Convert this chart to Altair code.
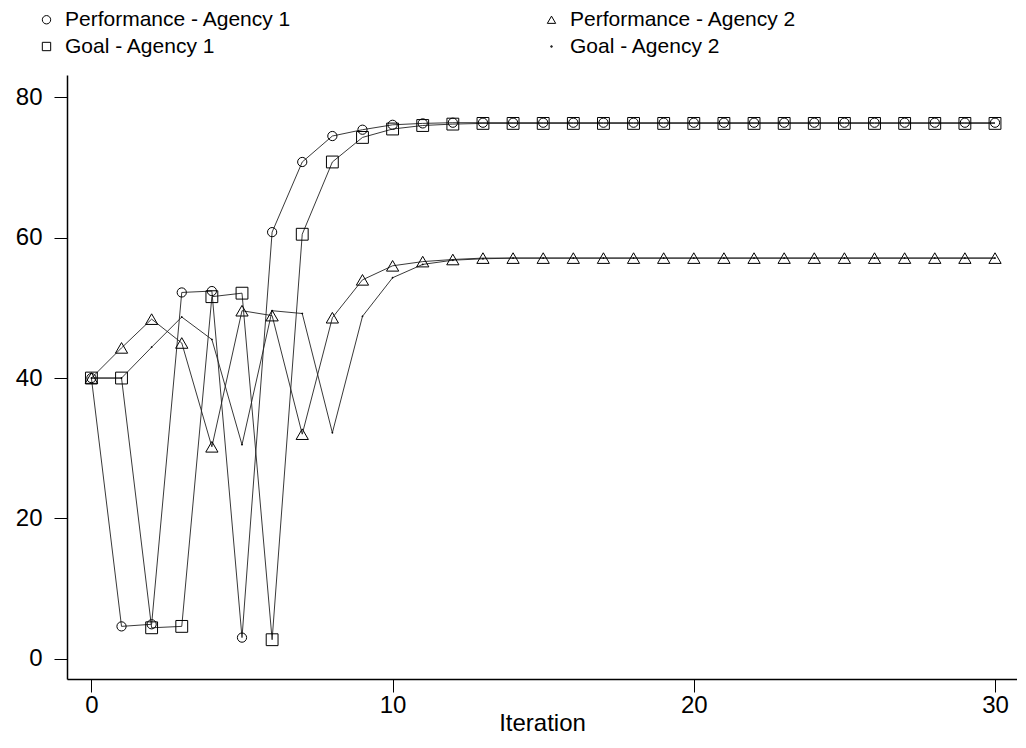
import altair as alt
import pandas as pd

iterations = list(range(31))

perf_agency1 = [40.0, 4.6, 4.9, 52.2, 52.4, 3.0, 60.8, 70.8, 74.5, 75.4, 76.1,
                76.3, 76.4, 76.4, 76.4, 76.4, 76.4, 76.4, 76.4, 76.4, 76.4,
                76.4, 76.4, 76.4, 76.4, 76.4, 76.4, 76.4, 76.4, 76.4, 76.4]
goal_agency1 = [40.0, 40.0, 4.4, 4.6, 51.6, 52.1, 2.7, 60.5, 70.8, 74.3, 75.5,
                76.0, 76.2, 76.3, 76.3, 76.3, 76.3, 76.3, 76.3, 76.3, 76.3,
                76.3, 76.3, 76.3, 76.3, 76.3, 76.3, 76.3, 76.3, 76.3, 76.3]
perf_agency2 = [40.0, 44.3, 48.4, 45.0, 30.2, 49.6, 48.9, 32.0, 48.6, 54.0, 56.0,
                56.6, 56.9, 57.1, 57.1, 57.1, 57.1, 57.1, 57.1, 57.1, 57.1,
                57.1, 57.1, 57.1, 57.1, 57.1, 57.1, 57.1, 57.1, 57.1, 57.1]
goal_agency2 = [40.0, 40.0, 44.4, 48.7, 45.5, 30.5, 49.6, 49.2, 32.2, 48.8, 54.3,
                56.2, 56.8, 57.0, 57.1, 57.1, 57.1, 57.1, 57.1, 57.1, 57.1,
                57.1, 57.1, 57.1, 57.1, 57.1, 57.1, 57.1, 57.1, 57.1, 57.1]

series_names = ["Performance - Agency 1", "Goal - Agency 1",
                "Performance - Agency 2", "Goal - Agency 2"]
series_values = [perf_agency1, goal_agency1, perf_agency2, goal_agency2]
marker_sizes = [85, 140, 150, 30]

rows = []
for name, vals in zip(series_names, series_values):
    for it, v in zip(iterations, vals):
        rows.append({"Iteration": it, "value": v, "series": name})
df = pd.DataFrame(rows)

dot_path = "M-0.15,-0.15L0.15,-0.15L0.15,0.15L-0.15,0.15Z"

x_enc = alt.X("Iteration:Q",
              scale=alt.Scale(domain=[-0.81, 30.73], nice=False, zero=False),
              axis=alt.Axis(values=[0, 10, 20, 30], title="Iteration",
                            titleBaseline="alphabetic", titleY=51))
y_enc = alt.Y("value:Q",
              scale=alt.Scale(domain=[-2.9, 83.2], nice=False, zero=False),
              axis=alt.Axis(values=[0, 20, 40, 60, 80], title=None))

shape_enc = alt.Shape(
    "series:N",
    scale=alt.Scale(domain=series_names,
                    range=["circle", "square", "triangle-up", dot_path]),
    legend=alt.Legend(title=None, orient="none", legendX=-31, legendY=-66,
                      columns=2, columnPadding=249, rowPadding=5,
                      labelFontSize=21, labelFont="Liberation Sans",
                      labelColor="black", labelOffset=8, labelLimit=0,
                      symbolSize=70, symbolStrokeWidth=1,
                      symbolStrokeColor="black", symbolFillColor="transparent"),
)

lines = alt.Chart(df).mark_line(color="#222222", strokeWidth=0.9).encode(
    x=x_enc, y=y_enc, detail="series:N", order="Iteration:Q"
)

layers = [lines]
for name, sz in zip(series_names, marker_sizes):
    layers.append(
        alt.Chart(df).transform_filter(alt.datum.series == name)
        .mark_point(filled=False, color="black", strokeWidth=1, opacity=1, size=sz)
        .encode(x=x_enc, y=y_enc, shape=shape_enc)
    )

chart = alt.layer(*layers).properties(
    width=950, height=604,
    autosize=alt.AutoSizeParams(type="none"),
    padding={"left": 59, "top": 67, "right": 0, "bottom": 57},
).configure_view(stroke=None).configure_axis(
    grid=False, domainColor="black", domainWidth=1.5, tickColor="black",
    tickSize=13, tickWidth=1, labelFont="Liberation Sans", labelFontSize=24,
    labelColor="black", titleFont="Liberation Sans", titleFontSize=24,
    titleFontWeight="normal", titleColor="black"
).configure_axisY(labelPadding=12).configure_axisX(labelPadding=1)

chart.save("out.html", embed_options={"renderer": "svg", "actions": False})
